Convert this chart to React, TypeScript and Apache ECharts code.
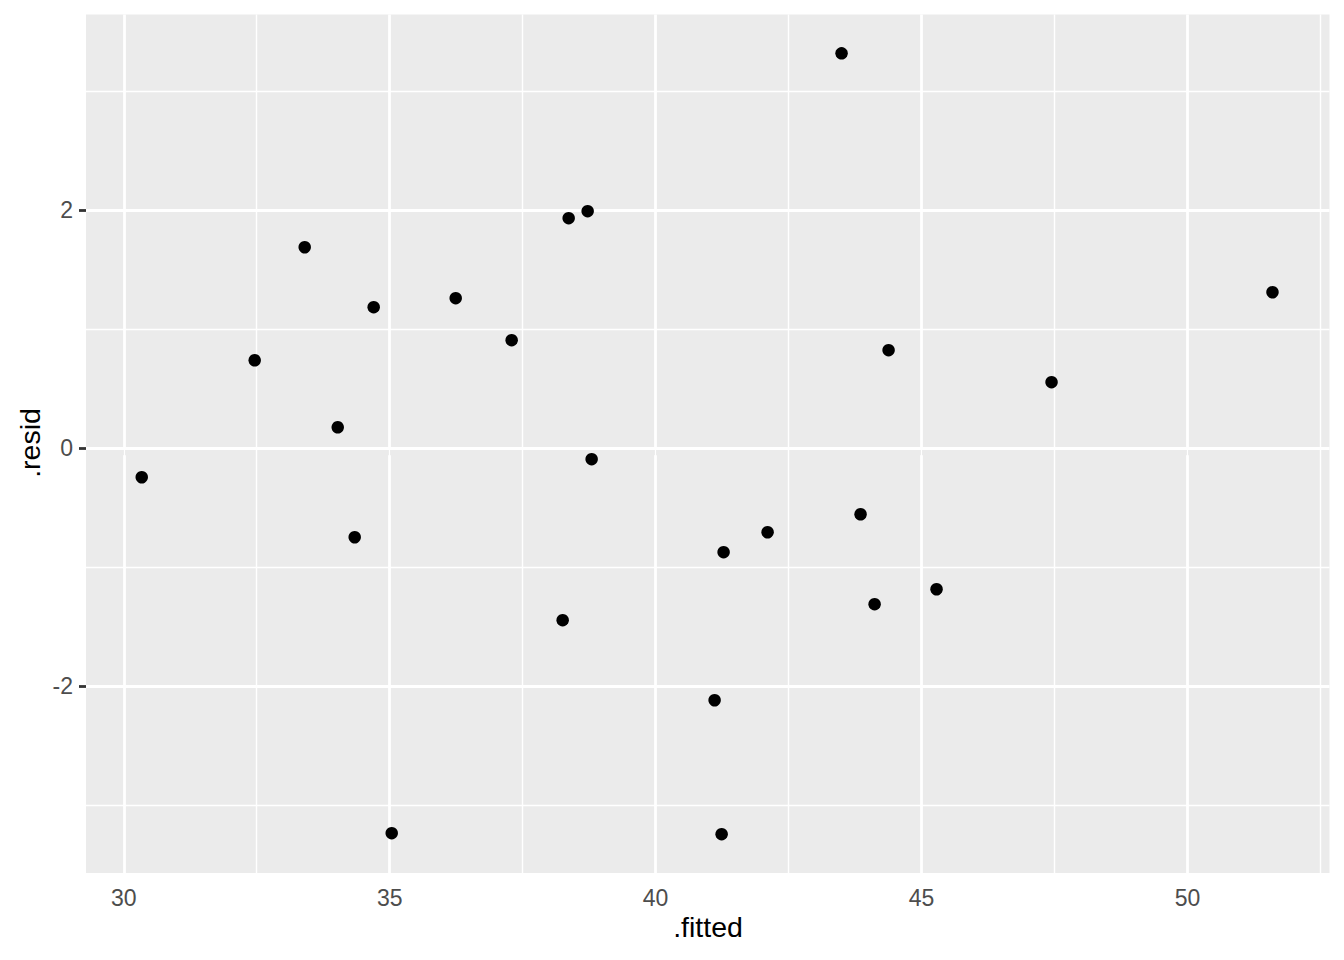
import React, { useEffect, useRef } from "react";
import * as echarts from "echarts";

const fittedValues = [
  30.338, 32.462, 33.402, 34.023, 34.342, 34.699, 35.038, 36.241, 37.293, 38.252, 38.365, 38.722,
  38.797, 41.109, 41.241, 41.278, 42.105, 43.496, 43.853, 44.117, 44.38, 45.282, 47.444, 51.598,
];
const residValues = [
  -0.244, 0.739, 1.689, 0.176, -0.748, 1.185, -3.235, 1.261, 0.908, -1.445, 1.933, 1.992,
  -0.092, -2.118, -3.244, -0.874, -0.706, 3.319, -0.555, -1.311, 0.824, -1.185, 0.555, 1.311,
];
const xTicks = [30, 35, 40, 45, 50];
const xMinor = [32.5, 37.5, 42.5, 47.5, 52.5];
const yTicks = [-2, 0, 2];
const yMinor = [-3, -1, 1, 3];

export default function App() {
  const ref = useRef<HTMLDivElement>(null);
  useEffect(() => {
    document.body.style.margin = "0";
    if (!ref.current) return;
    const chart = echarts.init(ref.current, undefined, { renderer: "svg" });
    const font = "'Liberation Sans', Arial, Helvetica, sans-serif";
    const major = { color: "#FFFFFF", width: 2.8, type: "solid" as const };
    const minor = { color: "#FFFFFF", width: 1.4, type: "solid" as const };
    const mk = (vals: number[], key: "xAxis" | "yAxis", ls: any) =>
      vals.map((v) => ({ [key]: v, lineStyle: ls }));
    chart.setOption({
      animation: false,
      backgroundColor: "#FFFFFF",
      grid: {
        left: 86,
        right: 14.5,
        top: 14.5,
        bottom: 87,
        show: true,
        backgroundColor: "#EBEBEB",
        borderWidth: 0,
      },
      xAxis: {
        type: "value",
        min: 29.29,
        max: 52.67,
        splitLine: { show: false },
        axisLine: { show: false },
        axisTick: {
          show: true,
          customValues: xTicks,
          length: 7,
          lineStyle: { color: "#333333", width: 2.8 },
        },
        axisLabel: {
          customValues: xTicks,
          margin: 13,
          color: "#4D4D4D",
          fontSize: 23,
          fontFamily: font,
        },
      },
      yAxis: {
        type: "value",
        min: -3.57,
        max: 3.645,
        splitLine: { show: false },
        axisLine: { show: false },
        axisTick: {
          show: true,
          customValues: yTicks,
          length: 7,
          lineStyle: { color: "#333333", width: 2.8 },
        },
        axisLabel: {
          customValues: yTicks,
          margin: 13,
          color: "#4D4D4D",
          fontSize: 23,
          fontFamily: font,
        },
      },
      graphic: [
        {
          type: "text",
          x: 708,
          y: 927,
          style: {
            text: ".fitted",
            fill: "#000000",
            fontSize: 28.5,
            fontFamily: font,
            align: "center",
            verticalAlign: "middle",
          },
        },
        {
          type: "text",
          x: 30,
          y: 443,
          rotation: Math.PI / 2,
          style: {
            text: ".resid",
            fill: "#000000",
            fontSize: 28.5,
            fontFamily: font,
            align: "center",
            verticalAlign: "middle",
          },
        },
      ],
      series: [
        {
          type: "scatter",
          data: [],
          z: 1,
          silent: true,
          markLine: {
            silent: true,
            symbol: ["none", "none"],
            label: { show: false },
            animation: false,
            data: [
              ...mk(xMinor, "xAxis", minor),
              ...mk(yMinor, "yAxis", minor),
              ...mk(xTicks, "xAxis", major),
              ...mk(yTicks, "yAxis", major),
            ],
          },
        },
        {
          type: "scatter",
          z: 5,
          symbol: "circle",
          symbolSize: 12.5,
          itemStyle: { color: "#000000", opacity: 1 },
          data: fittedValues.map((x, i) => [x, residValues[i]]),
        },
      ],
    });
    return () => chart.dispose();
  }, []);
  return <div ref={ref} style={{ width: 1344, height: 960 }} />;
}
